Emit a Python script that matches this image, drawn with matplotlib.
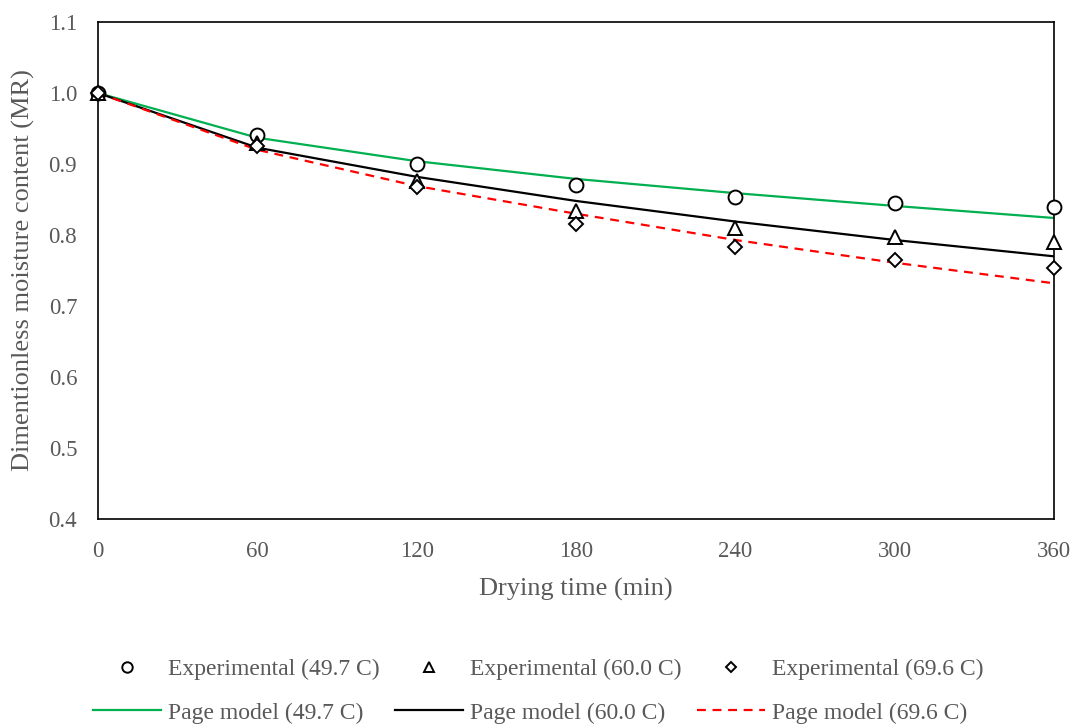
import matplotlib.pyplot as plt

plt.rcParams['font.family'] = ['Liberation Serif', 'DejaVu Serif']

# drying time (min)
time = [0, 60, 120, 180, 240, 300, 360]

# experimental moisture ratio
exp_497 = [1.000, 0.941, 0.900, 0.870, 0.853, 0.845, 0.839]
exp_600 = [1.000, 0.930, 0.876, 0.834, 0.810, 0.797, 0.790]
exp_696 = [1.000, 0.925, 0.868, 0.816, 0.783, 0.765, 0.754]

# Page model predictions
page_497 = [1.000, 0.937, 0.904, 0.879, 0.859, 0.841, 0.824]
page_600 = [1.000, 0.923, 0.882, 0.848, 0.819, 0.793, 0.770]
page_696 = [1.000, 0.920, 0.869, 0.830, 0.793, 0.761, 0.732]

gray = '#595959'

fig = plt.figure(figsize=(10.78, 7.24), dpi=100)
ax = fig.add_axes([0.0909, 0.2831, 0.8868, 0.6865])

# model lines
l1, = ax.plot(time, page_497, color='#00B050', lw=1.6, label='Page model (49.7 C)')
l2, = ax.plot(time, page_600, color='black', lw=1.6, label='Page model (60.0 C)')
l3, = ax.plot(time, page_696, color='#FF0000', lw=1.6, ls=(0, (4, 3)), label='Page model (69.6 C)')

# experimental points
mk = dict(ls='none', mfc='white', mec='black', mew=1.4, clip_on=False, zorder=5)
m1, = ax.plot(time, exp_497, marker='o', ms=10, label='Experimental (49.7 C)', **mk)
m2, = ax.plot(time, exp_600, marker='^', ms=10, label='Experimental (60.0 C)', **mk)
m3, = ax.plot(time, exp_696, marker='D', ms=7, label='Experimental (69.6 C)', **mk)

ax.set_xlim(0, 360)
ax.set_ylim(0.4, 1.1)
ax.set_xticks(time)
ax.set_yticks([0.4, 0.5, 0.6, 0.7, 0.8, 0.9, 1.0, 1.1])
ax.set_yticklabels(['0.4', '0.5', '0.6', '0.7', '0.8', '0.9', '1.0', '1.1'])
ax.tick_params(length=0, labelsize=16.5, colors=gray)
ax.tick_params(axis='y', pad=15)
ax.tick_params(axis='x', pad=16)
for s in ax.spines.values():
    s.set_color('black')
    s.set_linewidth(1.2)

ax.set_xlabel('Drying time (min)', fontsize=19, color=gray, labelpad=11)
ax.set_ylabel('Dimentionless moisture content (MR)', fontsize=19, color=gray, labelpad=10)

handles = [m1, l1, m2, l2, m3, l3]
leg = fig.legend(handles=handles, labels=[h.get_label() for h in handles],
                 ncol=3, loc='lower center', bbox_to_anchor=(0.499, -0.029),
                 frameon=False, fontsize=17, handlelength=2.9, handletextpad=0.28,
                 columnspacing=0.65, labelspacing=0.95, markerscale=0.75)
for t in leg.get_texts():
    t.set_color(gray)

fig.savefig('out.png', dpi=100)
